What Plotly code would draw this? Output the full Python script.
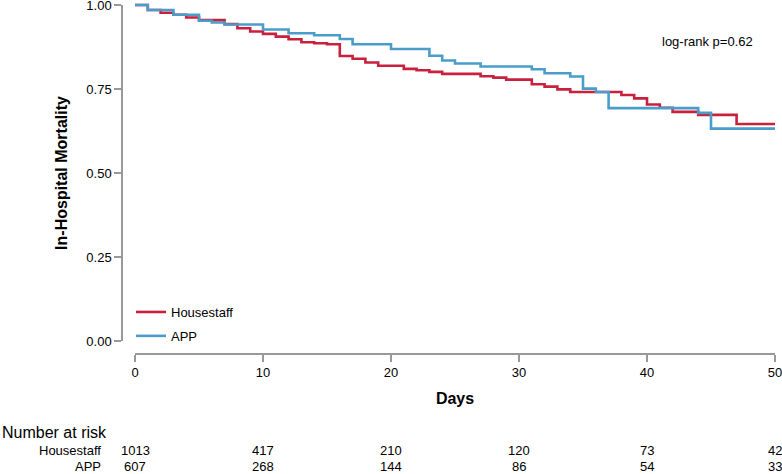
import plotly.graph_objects as go

W, H = 782, 474

# ── Data (Kaplan-Meier steps) ──────────────────────────────────────
hs_days = [0, 1, 2, 3, 4, 5, 7, 8, 9, 10, 11, 12, 13, 14, 15, 16, 17, 18, 19,
           21, 22, 23, 24, 27, 28, 29, 31, 32, 33, 34, 38, 39, 40, 41, 42, 44, 47, 50]
hs_surv = [1.0, 0.985, 0.977, 0.971, 0.963, 0.955, 0.943, 0.931, 0.921, 0.914,
           0.906, 0.898, 0.889, 0.886, 0.883, 0.848, 0.840, 0.829, 0.819, 0.810,
           0.806, 0.801, 0.795, 0.788, 0.784, 0.778, 0.764, 0.757, 0.749, 0.741,
           0.732, 0.722, 0.704, 0.694, 0.682, 0.673, 0.646, 0.646]

app_days = [0, 1, 3, 5, 6, 7, 10, 12, 14, 16, 17, 20, 23, 24, 25, 27, 31, 32,
            34, 35, 36, 37, 44, 45, 50]
app_surv = [1.0, 0.985, 0.971, 0.953, 0.948, 0.942, 0.927, 0.916, 0.910, 0.899,
            0.883, 0.869, 0.849, 0.835, 0.826, 0.817, 0.809, 0.797, 0.787, 0.751,
            0.741, 0.693, 0.679, 0.632, 0.632]

risk_days = [0, 10, 20, 30, 40, 50]
risk_hs = [1013, 417, 210, 120, 73, 42]
risk_app = [607, 268, 144, 86, 54, 33]

y_ticks = [0, 0.25, 0.5, 0.75, 1.0]

# ── Palette / fonts ────────────────────────────────────────────────
RED = "#C9203E"
BLUE = "#4A9DC9"
AXIS = "#999999"
FONT = "Liberation Sans, Arial, sans-serif"

# pixel helpers (page is 782x474, zero margins)
def px_x(p):
    return p / W

def px_y(p):
    return 1 - p / H

X0, X50 = 135, 775          # pixel of day 0 / day 50
Y1, Y0 = 5, 341             # pixel of 1.00 / 0.00
sx = (X50 - X0) / 50
sy = (Y0 - Y1) / 1.0

fig = go.Figure()

fig.add_trace(go.Scatter(
    x=hs_days, y=hs_surv, mode="lines", name="Housestaff",
    line=dict(color=RED, width=2.6, shape="hv"),
    legendgroup="a",
))
fig.add_trace(go.Scatter(
    x=app_days, y=app_surv, mode="lines", name="APP",
    line=dict(color=BLUE, width=2.6, shape="hv"),
    legendgroup="b",
))

# ── risk table ─────────────────────────────────────────────────────
ROW_HS, ROW_APP = 450, 466
ann = []
for d, n in zip(risk_days, risk_hs):
    ann.append(dict(x=d, xref="x2", y=px_y(ROW_HS), yref="paper", text=str(n),
                    showarrow=False, xanchor="center", yanchor="middle",
                    font=dict(size=13, color="black")))
for d, n in zip(risk_days, risk_app):
    ann.append(dict(x=d, xref="x2", y=px_y(ROW_APP), yref="paper", text=str(n),
                    showarrow=False, xanchor="center", yanchor="middle",
                    font=dict(size=13, color="black")))
ann.append(dict(x=0, xref="paper", y=px_y(432), yref="paper", text="Number at risk",
                showarrow=False, xanchor="left", yanchor="middle",
                font=dict(size=16, color="black")))
for lab, yy in [("Housestaff", ROW_HS), ("APP", ROW_APP)]:
    ann.append(dict(x=px_x(103), xref="paper", y=px_y(yy), yref="paper", text=lab,
                    showarrow=False, xanchor="right", yanchor="middle",
                    font=dict(size=13, color="black")))
ann.append(dict(x=(755 - X0) / sx, xref="x2", y=(Y0 - 42) / sy, yref="y3",
                text="log-rank p=0.62", showarrow=False, xanchor="right",
                yanchor="middle", font=dict(size=13, color="black")))

fig.update_layout(
    width=W, height=H,
    margin=dict(l=0, r=0, t=0, b=0),
    paper_bgcolor="white", plot_bgcolor="rgba(0,0,0,0)",
    font=dict(family=FONT, color="black", size=13),
    # data subplot, axes hidden, slightly larger than the drawn axes
    xaxis=dict(domain=[px_x(123), 1], range=[(123 - X0) / sx, (W - X0) / sx],
               visible=False, fixedrange=True),
    yaxis=dict(domain=[px_y(353), 1], range=[(Y0 - 353) / sy, Y0 / sy],
               visible=False, fixedrange=True),
    # x axis (detached, R style)
    xaxis2=dict(domain=[px_x(X0), px_x(X50)], range=[0, 50], anchor="y2",
                showline=True, linecolor=AXIS, linewidth=1.5,
                ticks="outside", ticklen=7, tickwidth=1.5, tickcolor=AXIS,
                tickvals=risk_days, showgrid=False, zeroline=False,
                tickfont=dict(size=13, color="black"), automargin=False,
                ticklabeloverflow="allow",
                title=dict(text="<b>Days</b>", font=dict(size=16, color="black"),
                           standoff=13)),
    yaxis2=dict(domain=[px_y(353), px_y(345)], visible=False),
    # y axis (detached)
    xaxis3=dict(domain=[px_x(123), px_x(130)], visible=False),
    yaxis3=dict(domain=[px_y(Y0), px_y(Y1)], range=[0, 1], anchor="x3",
                showline=True, linecolor=AXIS, linewidth=1.5,
                ticks="outside", ticklen=7, tickwidth=1.5, tickcolor=AXIS,
                tickvals=y_ticks, tickformat=".2f", showgrid=False, zeroline=False,
                tickfont=dict(size=13, color="black"), automargin=False,
                ticklabeloverflow="allow",
                title=dict(text="<b>In-Hospital Mortality</b>",
                           font=dict(size=16, color="black"), standoff=15)),
    legend=dict(x=px_x(131), y=px_y(297), xanchor="left", yanchor="top",
                bgcolor="rgba(0,0,0,0)", traceorder="grouped", tracegroupgap=4,
                font=dict(size=13, color="black")),
    annotations=ann,
)

# drop the default page margin so the 782x474 figure sits at the top-left
fig.write_html("out.html",
               config={"displayModeBar": False},
               post_script="document.body.style.margin='0';")
